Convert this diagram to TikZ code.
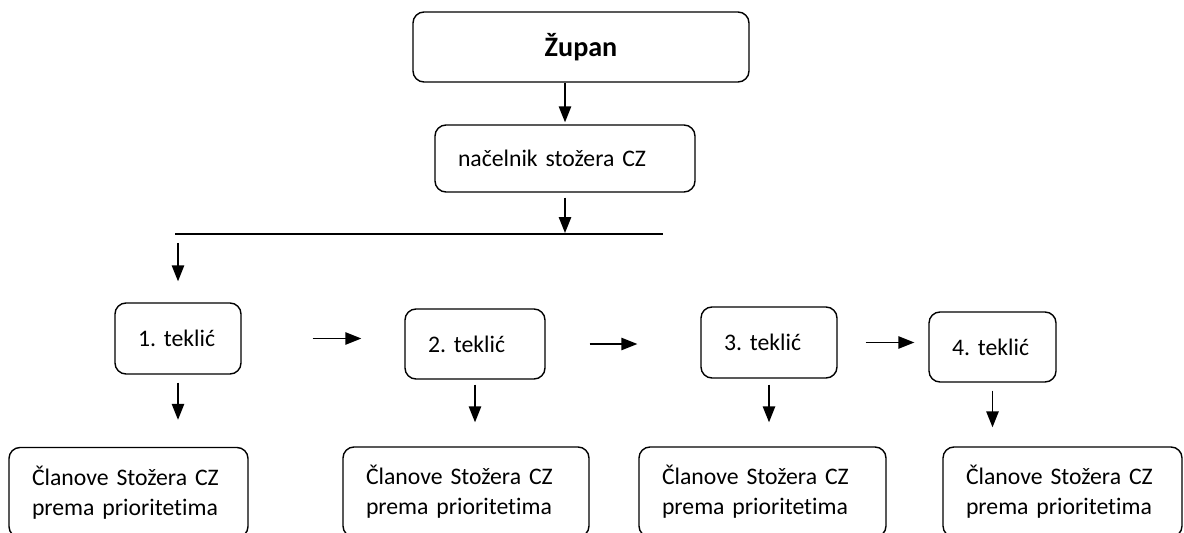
\documentclass[tikz,border=0pt]{standalone}
\usepackage{fontspec}
\setmainfont{Carlito}[Ligatures=NoCommon]
\usepackage{tikz}
\usetikzlibrary{arrows.meta,calc}

\begin{document}
\begin{tikzpicture}[line width=0.8pt]
        \tikzset{main node/.style={draw,rounded corners=0.22cm,inner xsep=0.46cm,inner ysep=0pt,align=left,font={\fontsize{13.5}{17}\selectfont\frenchspacing\hyphenpenalty=10000\relax}}}
        \tikzset{main arrow/.style={-{Triangle[length=9pt,width=7pt]}}}
        \useasboundingbox (0,0) rectangle (23.68,-10.66);

        % Nodes
        \node (zupan) [draw, rounded corners=0.22cm, minimum width=6.72cm, minimum height=1.40cm, font=\bfseries\fontsize{16}{19}\selectfont] at (11.62,-0.94) {Župan};
        \node (nacelnik) [main node, text width=4.28cm, minimum height=1.34cm] at (11.30,-3.17) {načelnik stožera CZ};
        \coordinate (bus_left) at (3.50,-4.68);
        \coordinate (bus_right) at (13.26,-4.68);

        \node (teklic_1) [main node, text width=1.60cm, minimum height=1.42cm] at (3.56,-6.77) {1. teklić};
        \node (teklic_2) [main node, text width=1.88cm, minimum height=1.40cm] at (9.50,-6.88) {2. teklić};
        \node (teklic_3) [main node, text width=1.80cm, minimum height=1.42cm] at (15.38,-6.85) {3. teklić};
        \node (teklic_4) [main node, text width=1.62cm, minimum height=1.40cm] at (19.85,-6.94) {4. teklić};

        \node (clanovi_1) [main node, text width=3.86cm, minimum height=1.80cm] at (2.57,-9.85) {Članove Stožera CZ\\prema prioritetima};
        \node (clanovi_2) [main node, text width=4.00cm, minimum height=1.80cm] at (9.32,-9.84) {Članove Stožera CZ\\prema prioritetima};
        \node (clanovi_3) [main node, text width=4.02cm, minimum height=1.80cm] at (15.25,-9.84) {Članove Stožera CZ\\prema prioritetima};
        \node (clanovi_4) [main node, text width=3.86cm, minimum height=1.80cm] at (21.25,-9.84) {Članove Stožera CZ\\prema prioritetima};

        % Lines
        \draw (bus_left) -- (bus_right);

        % Arrows
        \draw [main arrow, shorten >=0.04cm] (nacelnik.north |- zupan.south) -- (nacelnik.north);
        \draw [main arrow, shorten <=0.10cm, shorten >=0.02cm] (nacelnik.south) -- (nacelnik.south |- bus_right);
        \draw [main arrow, shorten <=0.18cm, shorten >=0.42cm] (teklic_1.north |- bus_left) -- (teklic_1.north);

        \draw [main arrow, shorten <=1.42cm, shorten >=0.86cm] (teklic_1.east) -- (teklic_1.east -| teklic_2.west);
        \draw [main arrow, shorten <=0.88cm, shorten >=1.26cm] (teklic_2.east) -- (teklic_2.east -| teklic_3.west);
        \draw [main arrow, shorten <=0.56cm, shorten >=0.28cm] (teklic_3.east) -- (teklic_3.east -| teklic_4.west);

        \draw [main arrow, shorten <=0.16cm, shorten >=0.54cm] (teklic_1.south) -- (teklic_1.south |- clanovi_1.north);
        \draw [main arrow, shorten <=0.10cm, shorten >=0.48cm] (teklic_2.south) -- (teklic_2.south |- clanovi_2.north);
        \draw [main arrow, shorten <=0.12cm, shorten >=0.48cm] (teklic_3.south) -- (teklic_3.south |- clanovi_3.north);
        \draw [main arrow, shorten <=0.16cm, shorten >=0.38cm] (teklic_4.south) -- (teklic_4.south |- clanovi_4.north);
    \end{tikzpicture}
\end{document}
